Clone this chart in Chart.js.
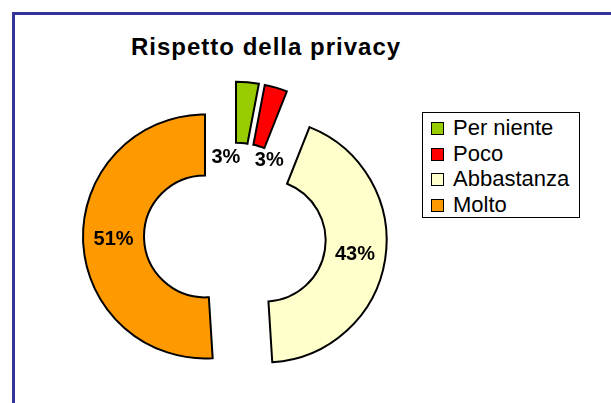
<!DOCTYPE html>
<html lang="it">
<head>
<meta charset="utf-8">
<title>Rispetto della privacy</title>
<script src="https://cdn.jsdelivr.net/npm/chart.js@4.4.0/dist/chart.umd.min.js"></script>
<style>
  body { margin: 0; width: 611px; height: 403px; overflow: hidden; position: relative; background: #fff;
         font-family: "Liberation Sans", Arial, sans-serif; color: #000; }
  #frame { position: absolute; left: 12px; top: 12px; width: 640px; height: 440px;
           border-top: 3px solid #333399; border-left: 3px solid #333399; }
  #title { position: absolute; left: 131px; top: 35px; font-size: 24px; font-weight: bold;
           line-height: 24px; letter-spacing: 1px; white-space: nowrap; }
  #chart { position: absolute; left: 0; top: 0; }
  #legend { position: absolute; left: 422px; top: 112px; width: 156px; height: 102px;
            padding-top: 2px; border: 1px solid #000; background: #fff; }
  #legend div { position: relative; height: 25.5px; line-height: 25.5px; font-size: 22px;
                padding-left: 30px; white-space: nowrap; }
  #legend span { position: absolute; left: 8px; top: 7px; width: 11px; height: 11px; border: 1px solid #000; }
</style>
</head>
<body>
<div id="frame"></div>
<div id="title">Rispetto della privacy</div>
<canvas id="chart" width="611" height="403"></canvas>
<div id="legend"></div>
<script>
// answers (percent)
const labels = ["Per niente", "Poco", "Abbastanza", "Molto"];
const shares = [3, 3, 43, 51];
const colors = ["#99cc00", "#ff0000", "#ffffcc", "#ff9900"];
// how far each slice is pulled out of the ring (px)
const explode = [32, 32, 32, 28];

function shift(arc, i) {
    const mid = (arc.startAngle + arc.endAngle) / 2;
    return { dx: Math.cos(mid) * explode[i], dy: Math.sin(mid) * explode[i] };
}

// draw the slices ourselves so they move out without growing
const explodePlugin = {
    id: "explode",
    beforeDatasetDraw(chart, args) {
        const ctx = chart.ctx;
        args.meta.data.forEach((arc, i) => {
            const s = shift(arc, i);
            ctx.save();
            ctx.translate(s.dx, s.dy);
            arc.draw(ctx);
            ctx.restore();
        });
        return false;
    }
};

const pctLabels = {
    id: "pctLabels",
    afterDatasetsDraw(chart) {
        const ctx = chart.ctx;
        let small = 0;
        ctx.save();
        ctx.font = 'bold 20px "Liberation Sans", Arial, sans-serif';
        ctx.fillStyle = "#000";
        ctx.textBaseline = "middle";
        chart.getDatasetMeta(0).data.forEach((arc, i) => {
            const s = shift(arc, i);
            const mid = (arc.startAngle + arc.endAngle) / 2;
            let r = (arc.innerRadius + arc.outerRadius) / 2;
            ctx.textAlign = "center";
            if (shares[i] < 5) {
                // thin slices: label sits in the hole, next to the slice
                r = arc.innerRadius - 15;
                ctx.textAlign = small++ ? "left" : "right";
            }
            ctx.fillText(shares[i] + "%", arc.x + s.dx + Math.cos(mid) * r, arc.y + s.dy + Math.sin(mid) * r);
        });
        ctx.restore();
    }
};

new Chart(document.getElementById("chart"), {
    type: "doughnut",
    data: {
        labels: labels,
        datasets: [{
            data: shares,
            backgroundColor: colors,
            borderColor: "#000",
            borderWidth: 2,
            borderJoinStyle: "miter"
        }]
    },
    options: {
        responsive: false,
        animation: false,
        events: [],
        radius: 122,
        cutout: "50%",
        layout: { padding: { left: 20, right: 165, top: 100, bottom: 32 } },
        plugins: { legend: { display: false }, tooltip: { enabled: false }, title: { display: false } }
    },
    plugins: [explodePlugin, pctLabels]
});

document.getElementById("legend").innerHTML = labels.map((l, i) =>
    `<div><span style="background:${colors[i]}"></span>${l}</div>`).join("");
</script>
</body>
</html>
